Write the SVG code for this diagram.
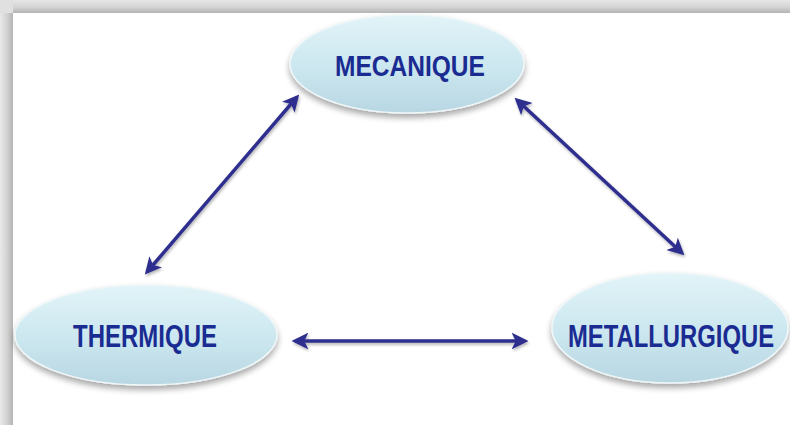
<svg xmlns="http://www.w3.org/2000/svg" width="790" height="425" viewBox="0 0 790 425">
<defs>
  <linearGradient id="fillG" x1="0" y1="0" x2="0" y2="1">
    <stop offset="0" stop-color="#e2f4f8"/>
    <stop offset="0.5" stop-color="#cde8f0"/>
    <stop offset="1" stop-color="#b8d7e3"/>
  </linearGradient>
  <linearGradient id="topBand" x1="0" y1="0" x2="0" y2="1">
    <stop offset="0" stop-color="#e6e6e6"/>
    <stop offset="0.5" stop-color="#d6d6d6"/>
    <stop offset="1" stop-color="#b4b4b4"/>
  </linearGradient>
  <linearGradient id="leftBand" x1="0" y1="0" x2="1" y2="0">
    <stop offset="0" stop-color="#e8e8e8"/>
    <stop offset="0.5" stop-color="#d4d4d4"/>
    <stop offset="1" stop-color="#b4b4b4"/>
  </linearGradient>
  <filter id="sh" x="-20%" y="-20%" width="140%" height="150%">
    <feGaussianBlur in="SourceAlpha" stdDeviation="3"/>
    <feOffset dx="0" dy="4" result="b"/>
    <feComponentTransfer><feFuncA type="linear" slope="0.35"/></feComponentTransfer>
    <feMerge><feMergeNode/><feMergeNode in="SourceGraphic"/></feMerge>
  </filter>
  <filter id="ash" filterUnits="userSpaceOnUse" x="0" y="0" width="790" height="425">
    <feGaussianBlur in="SourceAlpha" stdDeviation="1.5"/>
    <feOffset dx="1" dy="2"/>
    <feComponentTransfer><feFuncA type="linear" slope="0.3"/></feComponentTransfer>
    <feMerge><feMergeNode/><feMergeNode in="SourceGraphic"/></feMerge>
  </filter>
  <marker id="ah" viewBox="0 0 10 10" refX="8" refY="5" markerWidth="4.8" markerHeight="4.8" orient="auto-start-reverse" markerUnits="strokeWidth">
    <path d="M0,0 L10,5 L0,10 L2.5,5 Z" fill="#2e2e8e"/>
  </marker>
</defs>
<style>
  .node ellipse { fill: url(#fillG); stroke: #eef6f8; stroke-width: 1.5; filter: url(#sh); }
  .node text { font-family: "Liberation Sans", Arial, sans-serif; font-weight: bold; fill: #1a2c92; text-anchor: middle; }
  .conn line { stroke: #2e2e8e; stroke-width: 3.5; marker-start: url(#ah); marker-end: url(#ah); }
</style>
<rect x="0" y="0" width="790" height="425" fill="#ffffff"/>
<rect x="0" y="0" width="790" height="13" fill="url(#topBand)"/>
<rect x="0" y="0" width="13" height="425" fill="url(#leftBand)"/>
<rect x="0" y="0" width="13" height="13" fill="#e0e0e0"/>
<g class="conn" filter="url(#ash)">
  <line x1="147" y1="272" x2="297" y2="97"/>
  <line x1="517" y1="100" x2="682" y2="253"/>
  <line x1="295" y1="341" x2="525" y2="341"/>
</g>
<g id="mecanique" class="node">
  <ellipse cx="407" cy="64" rx="117" ry="49"/>
  <text x="0" y="0" font-size="30" transform="translate(410,76) scale(0.818,1)">MECANIQUE</text>
</g>
<g id="thermique" class="node">
  <ellipse cx="146" cy="335" rx="131" ry="50"/>
  <text x="0" y="0" font-size="31" transform="translate(145,347) scale(0.774,1)">THERMIQUE</text>
</g>
<g id="metallurgique" class="node">
  <ellipse cx="670" cy="328" rx="118" ry="55"/>
  <text x="0" y="0" font-size="32" transform="translate(671,347) scale(0.745,1)">METALLURGIQUE</text>
</g>
</svg>
